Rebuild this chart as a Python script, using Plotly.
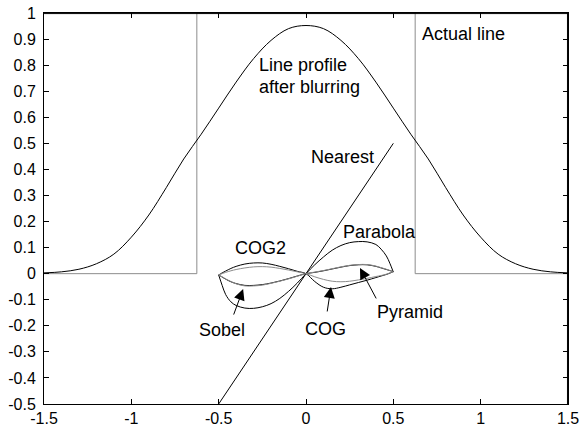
import plotly.graph_objects as go

# ---- data ----
profile_x = [-1.5, -1.4, -1.3, -1.2, -1.1, -1.0, -0.9, -0.8, -0.7, -0.6, -0.5, -0.4, -0.3, -0.2, -0.1, 0.0,
             0.1, 0.2, 0.3, 0.4, 0.5, 0.6, 0.7, 0.8, 0.9, 1.0, 1.1, 1.2, 1.3, 1.4, 1.5]
profile_y = [0.003, 0.007, 0.017, 0.038, 0.075, 0.14, 0.225, 0.33, 0.44, 0.535, 0.635, 0.735, 0.825, 0.895, 0.94, 0.952,
             0.94, 0.895, 0.825, 0.735, 0.635, 0.535, 0.44, 0.33, 0.225, 0.14, 0.075, 0.038, 0.017, 0.007, 0.003]

actual_x = [-1.5, -0.625, -0.625, 0.625, 0.625, 1.5]
actual_y = [0, 0, 1, 1, 0, 0]

nearest_x = [-0.5, 0.5]
nearest_y = [-0.5, 0.5]

loop_x = [-0.5, -0.48, -0.46, -0.43, -0.4, -0.35, -0.3, -0.25, -0.2, -0.15, -0.1, -0.05, 0.0,
          0.05, 0.1, 0.15, 0.2, 0.25, 0.3, 0.35, 0.4, 0.43, 0.46, 0.48, 0.5]
parabola_y = [-0.005, -0.045, -0.08, -0.108, -0.122, -0.132, -0.133, -0.127, -0.115, -0.095, -0.068, -0.036, 0.0,
              0.034, 0.064, 0.09, 0.108, 0.119, 0.123, 0.122, 0.112, 0.094, 0.068, 0.04, 0.006]
pyramid_y = [-0.005, -0.013, -0.021, -0.031, -0.038, -0.045, -0.045, -0.042, -0.036, -0.028, -0.019, -0.009, 0.0,
             0.005, 0.011, 0.018, 0.025, 0.031, 0.034, 0.034, 0.028, 0.022, 0.016, 0.012, 0.008]
sobel_y = [-0.005, -0.012, -0.02, -0.03, -0.039, -0.047, -0.047, -0.044, -0.037, -0.029, -0.02, -0.01, 0.0,
           0.006, 0.012, 0.019, 0.026, 0.032, 0.035, 0.035, 0.029, 0.023, 0.017, 0.012, 0.008]
cog_y = [-0.005, 0.003, 0.01, 0.02, 0.028, 0.037, 0.041, 0.041, 0.036, 0.028, 0.019, 0.009, 0.0,
         -0.03, -0.052, -0.058, -0.052, -0.043, -0.034, -0.025, -0.015, -0.009, -0.003, 0.002, 0.008]
cog2_y = [-0.005, 0.0, 0.005, 0.011, 0.016, 0.022, 0.026, 0.027, 0.025, 0.02, 0.014, 0.007, 0.0,
          -0.012, -0.022, -0.029, -0.031, -0.029, -0.024, -0.018, -0.011, -0.007, -0.002, 0.003, 0.008]

x_ticks = [-1.5, -1, -0.5, 0, 0.5, 1, 1.5]
x_ticktext = ["-1.5", "-1", "-0.5", "0", "0.5", "1", "1.5"]
y_ticks = [-0.5, -0.4, -0.3, -0.2, -0.1, 0, 0.1, 0.2, 0.3, 0.4, 0.5, 0.6, 0.7, 0.8, 0.9, 1]
y_ticktext = ["-0.5", "-0.4", "-0.3", "-0.2", "-0.1", "0", "0.1", "0.2", "0.3", "0.4", "0.5",
              "0.6", "0.7", "0.8", "0.9", "1"]

BLACK = "#000000"
GRAY = "#8c8c8c"
FONT = "Liberation Sans, Arial, sans-serif"

fig = go.Figure()

def add_line(x, y, color, shape="linear"):
    fig.add_trace(go.Scatter(x=x, y=y, mode="lines", line=dict(color=color, width=1, shape=shape),
                             hoverinfo="skip", showlegend=False, cliponaxis=False))

add_line(actual_x, actual_y, GRAY)
add_line(profile_x, profile_y, BLACK, "spline")
add_line(nearest_x, nearest_y, BLACK)
add_line(loop_x, parabola_y, BLACK, "spline")
add_line(loop_x, cog_y, BLACK, "spline")
add_line(loop_x, cog2_y, GRAY, "spline")
add_line(loop_x, pyramid_y, BLACK, "spline")
add_line(loop_x, sobel_y, GRAY, "spline")

labels = [
    ("Actual line", 0.664, 0.919, "left"),
    ("Line profile", -0.269, 0.802, "left"),
    ("after blurring", -0.269, 0.718, "left"),
    ("Nearest", 0.029, 0.448, "left"),
    ("COG2", -0.258, 0.098, "center"),
    ("Parabola", 0.212, 0.16, "left"),
    ("Sobel", -0.481, -0.216, "center"),
    ("COG", 0.109, -0.212, "center"),
    ("Pyramid", 0.406, -0.147, "left"),
]
for t, x, y, anc in labels:
    fig.add_annotation(x=x, y=y, text=t, showarrow=False, xanchor=anc, yanchor="middle",
                       xshift=-2 if anc == "left" else 0,
                       font=dict(family=FONT, size=18, color="black"))

arrows = [(-0.36, -0.059, -10, 27), (0.143, -0.051, -4, 26), (0.309, 0.022, 17, 32)]
for x, y, ax, ay in arrows:
    fig.add_annotation(x=x, y=y, ax=ax, ay=ay, text="", showarrow=True, arrowhead=2,
                       arrowsize=2.2, arrowwidth=1, arrowcolor="black", standoff=0)

axis_common = dict(showline=True, linecolor="black", linewidth=1, mirror="allticks", ticks="inside",
                   ticklen=5, tickcolor="black", showgrid=False, zeroline=False, automargin=False,
                   tickfont=dict(family=FONT, size=16, color="black"))

fig.update_xaxes(range=[-1.5, 1.5], tickvals=x_ticks, ticktext=x_ticktext, **axis_common)
fig.update_yaxes(range=[-0.5, 1], tickvals=y_ticks, ticktext=y_ticktext, ticklabelstandoff=4, **axis_common)

# axes box (top and right edges), drawn just inside the plot area
fig.add_shape(type="line", xref="paper", yref="paper", x0=0, y0=0.9985, x1=1, y1=0.9985,
              line=dict(color="black", width=1), layer="above")
fig.add_shape(type="line", xref="paper", yref="paper", x0=0.999, y0=0, x1=0.999, y1=1,
              line=dict(color="black", width=1), layer="above")

fig.update_layout(width=581, height=430, margin=dict(l=44, r=13, t=13, b=26),
                  plot_bgcolor="white", paper_bgcolor="white", showlegend=False)

fig.write_html("out.html", config={"displayModeBar": False, "staticPlot": True},
               post_script="document.body.style.margin='0';document.body.style.overflow='hidden';")
